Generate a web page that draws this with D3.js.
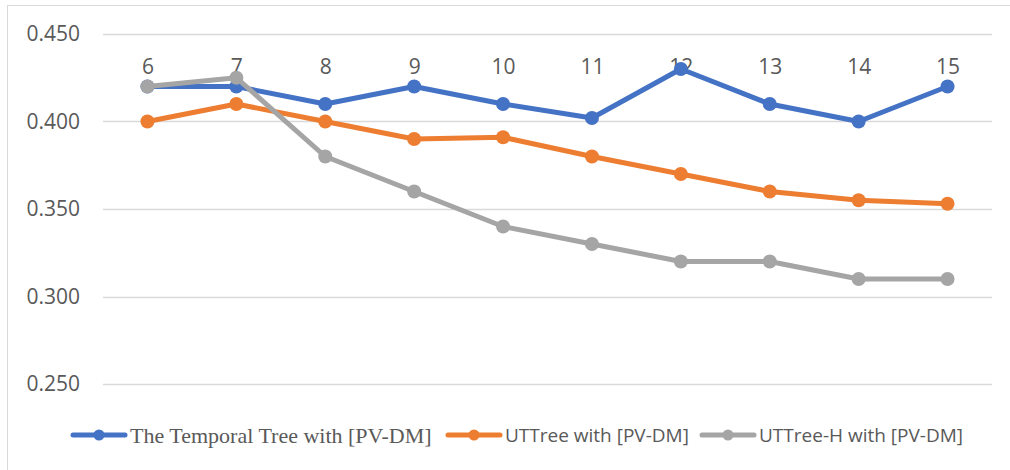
<!DOCTYPE html>
<html>
<head>
<meta charset="utf-8">
<script src="https://cdn.jsdelivr.net/npm/d3@7/dist/d3.min.js"></script>
<style>
  body { margin: 0; background: #fff; }
  svg { display: block; }
</style>
</head>
<body>
<div id="chart"></div>
<script>
(function () {

var categories = ["6", "7", "8", "9", "10", "11", "12", "13", "14", "15"];
var seriesNames = ["The Temporal Tree with [PV-DM]", "UTTree with [PV-DM]", "UTTree-H with [PV-DM]"];
var temporalTree = [0.420, 0.420, 0.410, 0.420, 0.410, 0.402, 0.430, 0.410, 0.400, 0.420];
var utTree = [0.400, 0.410, 0.400, 0.390, 0.391, 0.380, 0.370, 0.360, 0.355, 0.353];
var utTreeH = [0.420, 0.425, 0.380, 0.360, 0.340, 0.330, 0.320, 0.320, 0.310, 0.310];
var yTicks = [0.250, 0.300, 0.350, 0.400, 0.450];

var colors = ["#4472C4", "#ED7D31", "#A5A5A5"];
var series = [temporalTree, utTree, utTreeH];

var width = 1010, height = 470;

var svg = d3.select("#chart").append("svg")
    .attr("width", width)
    .attr("height", height);

// chart border
svg.append("rect")
    .attr("x", 7.5).attr("y", 5.5)
    .attr("width", 1010).attr("height", 480)
    .attr("fill", "none")
    .attr("stroke", "#D9D9D9");

var xScale = d3.scalePoint().domain(categories).range([103, 992]).padding(0.5);
var yScale = d3.scaleLinear().domain([0.25, 0.45]).range([384, 34]);

// gridlines
svg.append("g").selectAll("line")
    .data(yTicks)
  .enter().append("line")
    .attr("x1", 103).attr("x2", 992)
    .attr("y1", function(d) { return Math.round(yScale(d)) + 0.5; })
    .attr("y2", function(d) { return Math.round(yScale(d)) + 0.5; })
    .attr("stroke", "#D9D9D9")
    .attr("stroke-width", 1.5);

// y axis labels
var yAxis = d3.axisLeft(yScale).tickValues(yTicks).tickFormat(d3.format(".3f")).tickSize(0).tickPadding(0);
var yg = svg.append("g").attr("transform", "translate(80,0)").call(yAxis);
yg.select(".domain").remove();
yg.selectAll("text")
    .attr("fill", "#595959")
    .style("font-family", "'Open Sans', sans-serif")
    .style("font-size", "21px");

// category labels at top
var xAxis = d3.axisTop(xScale).tickSize(0).tickPadding(0);
var xg = svg.append("g").attr("transform", "translate(0,74)").call(xAxis);
xg.select(".domain").remove();
xg.selectAll("text")
    .attr("fill", "#595959")
    .style("font-family", "'Open Sans', sans-serif")
    .style("font-size", "21px");

var line = d3.line()
    .x(function(d, i) { return xScale(categories[i]); })
    .y(function(d) { return yScale(d); });

series.forEach(function(s, k) {
  svg.append("path")
      .datum(s)
      .attr("d", line)
      .attr("fill", "none")
      .attr("stroke", colors[k])
      .attr("stroke-width", 5)
      .attr("stroke-linejoin", "round")
      .attr("stroke-linecap", "round");
  svg.append("g").selectAll("circle")
      .data(s)
    .enter().append("circle")
      .attr("cx", function(d, i) { return xScale(categories[i]); })
      .attr("cy", function(d) { return yScale(d); })
      .attr("r", 7)
      .attr("fill", colors[k]);
});

// legend
var legendItems = [
  {x: 71, font: "'Liberation Serif', 'DejaVu Serif', serif", size: 22},
  {x: 446, font: "'Open Sans', sans-serif", size: 19},
  {x: 700, font: "'Open Sans', sans-serif", size: 19}
];
var legendY = 435;
legendItems.forEach(function(it, k) {
  var g = svg.append("g").attr("transform", "translate(" + it.x + "," + legendY + ")");
  g.append("line")
      .attr("x1", 2).attr("x2", 54)
      .attr("stroke", colors[k])
      .attr("stroke-width", 5)
      .attr("stroke-linecap", "round");
  g.append("circle").attr("cx", 28).attr("r", 5.5).attr("fill", colors[k]);
  g.append("text")
      .attr("x", 59).attr("y", 0)
      .attr("dy", "0.35em")
      .attr("fill", "#595959")
      .style("font-family", it.font)
      .style("font-size", it.size + "px")
      .text(seriesNames[k]);
});

})();
</script>
</body>
</html>
